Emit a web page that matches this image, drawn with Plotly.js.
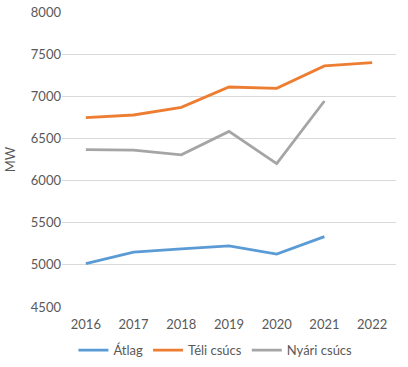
<!DOCTYPE html>
<html><head><meta charset="utf-8">
<script src="https://cdn.plot.ly/plotly-3.0.1.min.js"></script>
<style>html,body{margin:0;padding:0;background:#fff}#chart{width:408px;height:367px}</style>
</head><body><div id="chart"></div>
<script>
var years = ['2016','2017','2018','2019','2020','2021','2022'];
var atlag = [5015, 5150, 5190, 5225, 5128, 5335, null];
var teliCsucs = [6746, 6778, 6869, 7110, 7095, 7360, 7400];
var nyariCsucs = [6368, 6361, 6305, 6583, 6202, 6944, null];
var yTicks = [4500, 5000, 5500, 6000, 6500, 7000, 7500, 8000];

var font = {family: 'Lato, "Open Sans", sans-serif', size: 13, color: '#595959'};
function tr(name, y, color) {
  return {x: years, y: y, name: name, type: 'scatter', mode: 'lines',
    line: {color: color, width: 2.8}, connectgaps: false, hoverinfo: 'skip'};
}
var data = [
  tr('Átlag', atlag, '#5B9BD5'),
  tr('Téli csúcs', teliCsucs, '#ED7D31'),
  tr('Nyári csúcs', nyariCsucs, '#A5A5A5')
];
var layout = {
  width: 408, height: 367,
  margin: {l: 62, r: 12, t: 12, b: 60, autoexpand: false},
  paper_bgcolor: '#fff', plot_bgcolor: '#fff',
  font: font,
  showlegend: true,
  legend: {orientation: 'h', xref: 'container', x: 0.18, xanchor: 'left',
    yref: 'container', y: 0.046, yanchor: 'middle',
    font: font, itemwidth: 30, tracegroupgap: 0},
  xaxis: {type: 'category', range: [-0.5, 6.5], showgrid: false, zeroline: false,
    showline: false, ticks: '', tickfont: font, fixedrange: true, automargin: false,
    ticklabelstandoff: 8},
  yaxis: {range: [4500, 8000], tickvals: yTicks, ticktext: yTicks.map(String),
    showgrid: true, gridcolor: '#D9D9D9', gridwidth: 1, zeroline: false, showline: false,
    ticks: '', tickfont: font, title: {text: 'MW', font: font, standoff: 12}, fixedrange: true, automargin: false}
};
Plotly.newPlot('chart', data, layout, {displayModeBar: false, staticPlot: true});
</script></body></html>
